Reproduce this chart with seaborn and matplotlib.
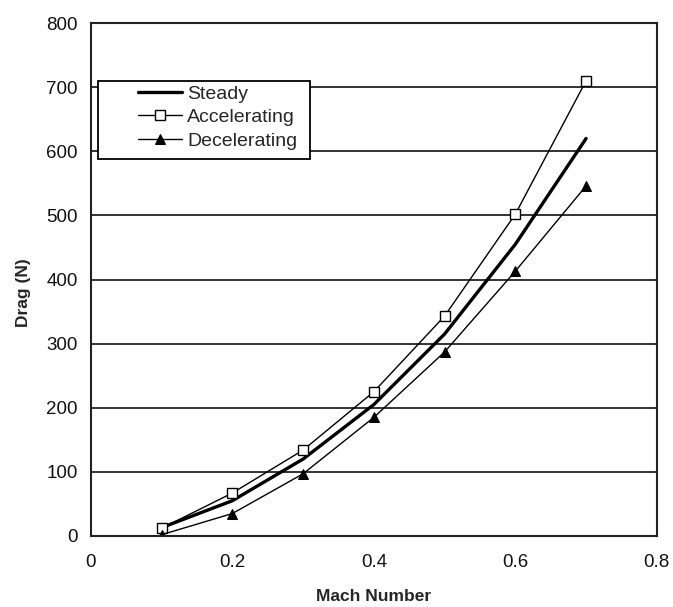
import numpy as np
import pandas as pd
import matplotlib
matplotlib.use("Agg")
import matplotlib.pyplot as plt
from matplotlib.patches import Rectangle
import seaborn as sns

mach = [0.1, 0.2, 0.3, 0.4, 0.5, 0.6, 0.7]
steady = [13, 55, 120, 205, 315, 455, 620]
accelerating = [12, 67, 134, 225, 343, 502, 710]
decelerating = [2, 35, 97, 185, 287, 413, 546]

sns.set_theme(style="white")
plt.rcParams['font.family'] = ['Liberation Sans', 'DejaVu Sans']

fig = plt.figure(figsize=(6.73, 6.07), dpi=100)
ax = fig.add_axes([0.135, 0.117, 0.841, 0.845])

df = pd.DataFrame({"Mach": mach, "Steady": steady,
                   "Accelerating": accelerating, "Decelerating": decelerating})

sns.lineplot(data=df, x="Mach", y="Steady", ax=ax, color="black", lw=2.4,
             label="Steady")
sns.lineplot(data=df, x="Mach", y="Accelerating", ax=ax, color="black", lw=1.0,
             marker="s", markersize=7, markerfacecolor="white",
             markeredgecolor="black", markeredgewidth=1.0, label="Accelerating")
sns.lineplot(data=df, x="Mach", y="Decelerating", ax=ax, color="black", lw=1.0,
             marker="^", markersize=7, markerfacecolor="black",
             markeredgecolor="black", label="Decelerating")

ax.set_xlim(0, 0.8)
ax.set_ylim(0, 800)
ax.set_xticks([0, 0.2, 0.4, 0.6, 0.8])
ax.set_xticklabels(["0", "0.2", "0.4", "0.6", "0.8"])
ax.set_yticks(range(0, 801, 100))
ax.yaxis.grid(True, color="#222222", lw=1.3)
ax.xaxis.grid(False)
ax.set_axisbelow(True)
for s in ax.spines.values():
    s.set_color("#222222")
    s.set_linewidth(1.5)
ax.tick_params(axis="both", direction="out", length=6, width=1.2,
               colors="#222222", labelsize=13.5, labelcolor="#111111")
ax.tick_params(axis="x", pad=7)
ax.set_xlabel("Mach Number", fontsize=12.5, fontweight="bold", labelpad=13)
ax.set_ylabel("Drag (N)", fontsize=12.5, fontweight="bold")
ax.yaxis.set_label_coords(-0.105, 0.475)

leg = ax.legend(loc="upper left", bbox_to_anchor=(0.083, 0.879), fontsize=14,
                frameon=False, handlelength=2.27, handletextpad=0.26,
                borderpad=0, labelspacing=0.3, borderaxespad=0)
ax.add_patch(Rectangle((0.0124, 0.735), 0.375, 0.152, transform=ax.transAxes,
                       facecolor="white", edgecolor="black", lw=1.3, zorder=4.5))
leg.set_zorder(5)

fig.savefig("out.png", dpi=100, facecolor="white")
